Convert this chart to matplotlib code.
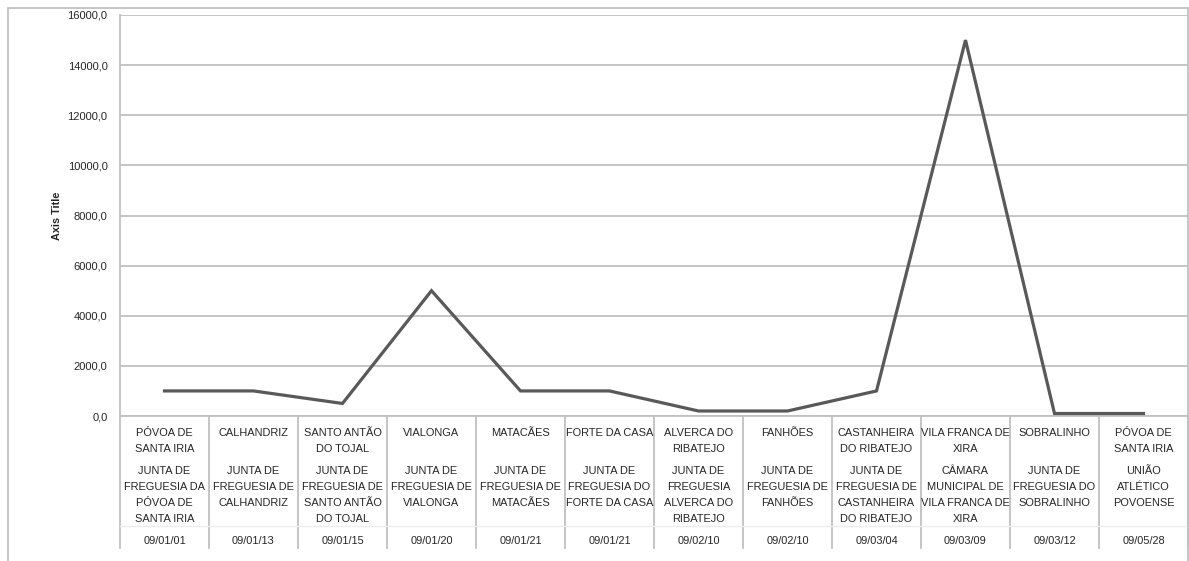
import matplotlib
matplotlib.use('Agg')
import matplotlib.pyplot as pl
import matplotlib.transforms as mtrans
from matplotlib.patches import Rectangle

pl.rcParams['font.family'] = ['Liberation Sans Narrow', 'Liberation Sans', 'DejaVu Sans']

# category levels (place / entity / date) and values
places = ["PÓVOA DE\nSANTA IRIA", "CALHANDRIZ", "SANTO ANTÃO\nDO TOJAL",
          "VIALONGA", "MATACÃES", "FORTE DA CASA", "ALVERCA DO\nRIBATEJO",
          "FANHÕES", "CASTANHEIRA\nDO RIBATEJO", "VILA FRANCA DE\nXIRA",
          "SOBRALINHO", "PÓVOA DE\nSANTA IRIA"]
entities = ["JUNTA DE\nFREGUESIA DA\nPÓVOA DE\nSANTA IRIA",
            "JUNTA DE\nFREGUESIA DE\nCALHANDRIZ",
            "JUNTA DE\nFREGUESIA DE\nSANTO ANTÃO\nDO TOJAL",
            "JUNTA DE\nFREGUESIA DE\nVIALONGA",
            "JUNTA DE\nFREGUESIA DE\nMATACÃES",
            "JUNTA DE\nFREGUESIA DO\nFORTE DA CASA",
            "JUNTA DE\nFREGUESIA\nALVERCA DO\nRIBATEJO",
            "JUNTA DE\nFREGUESIA DE\nFANHÕES",
            "JUNTA DE\nFREGUESIA DE\nCASTANHEIRA\nDO RIBATEJO",
            "CÂMARA\nMUNICIPAL DE\nVILA FRANCA DE\nXIRA",
            "JUNTA DE\nFREGUESIA DO\nSOBRALINHO",
            "UNIÃO\nATLÉTICO\nPOVOENSE"]
dates = ["09/01/01", "09/01/13", "09/01/15", "09/01/20", "09/01/21", "09/01/21",
         "09/02/10", "09/02/10", "09/03/04", "09/03/09", "09/03/12", "09/05/28"]
values = [1000, 1000, 500, 5000, 1000, 1000, 200, 200, 1000, 15000, 100, 100]

yticks = [0, 2000, 4000, 6000, 8000, 10000, 12000, 14000, 16000]

W, H = 1189, 561
fig = pl.figure(figsize=(W / 100., H / 100.), dpi=100)

# outer chart border
fig.patches.append(Rectangle((8. / W, -0.1), (1188. - 8.) / W, 1.1 - 7.5 / H,
                             transform=fig.transFigure, fill=False,
                             edgecolor='#c0c0c0', lw=1.3))

ax = fig.add_axes([120. / W, 1 - 416. / H, (1188. - 120.) / W, (416. - 15.) / H])

x = list(range(len(values)))
ax.plot(x, values, color='#595959', lw=2.3, solid_joinstyle='miter', zorder=3)

ax.set_xlim(-0.5, len(values) - 0.5)
ax.set_ylim(0, 16000)
ax.set_yticks(yticks)
ax.set_yticklabels(['{:.1f}'.format(v).replace('.', ',') for v in yticks],
                   fontsize=8, color='#262626')
ax.set_xticks([])
ax.tick_params(axis='y', length=0, pad=9)
ax.grid(axis='y', color='#c0c0c0', lw=1.3)
ax.set_axisbelow(True)

for s in ['top', 'right']:
    ax.spines[s].set_visible(False)
ax.spines['left'].set_color('#c0c0c0')
ax.spines['left'].set_linewidth(1.3)
ax.spines['bottom'].set_color('#c0c0c0')
ax.spines['bottom'].set_linewidth(1.3)

ax.set_ylabel('Axis Title', fontsize=7.8, fontweight='bold', color='#262626',
              labelpad=4)

# multi-level category axis drawn below the plot
trans = mtrans.blended_transform_factory(ax.transData, ax.transAxes)
ph = 401.
y_bot = -(548. - 416.) / ph
for i in range(len(values) + 1):
    ax.plot([i - 0.5, i - 0.5], [0, y_bot], color='#c0c0c0', lw=1.3,
            transform=trans, clip_on=False)
ax.plot([-0.5, len(values) - 0.5], [-(526. - 416.) / ph] * 2, color='#ececec',
        lw=1.0, transform=trans, clip_on=False)

for i in x:
    ax.text(i, -(428. - 416.) / ph, places[i], transform=trans, ha='center',
            va='top', fontsize=7.9, color='#262626', linespacing=1.75,
            multialignment='center')
    ax.text(i, -(466. - 416.) / ph, entities[i], transform=trans, ha='center',
            va='top', fontsize=7.9, color='#262626', linespacing=1.75,
            multialignment='center')
    ax.text(i, -(541. - 416.) / ph, dates[i], transform=trans, ha='center',
            va='center', fontsize=7.9, color='#262626')

pl.savefig('out.png', dpi=100)
